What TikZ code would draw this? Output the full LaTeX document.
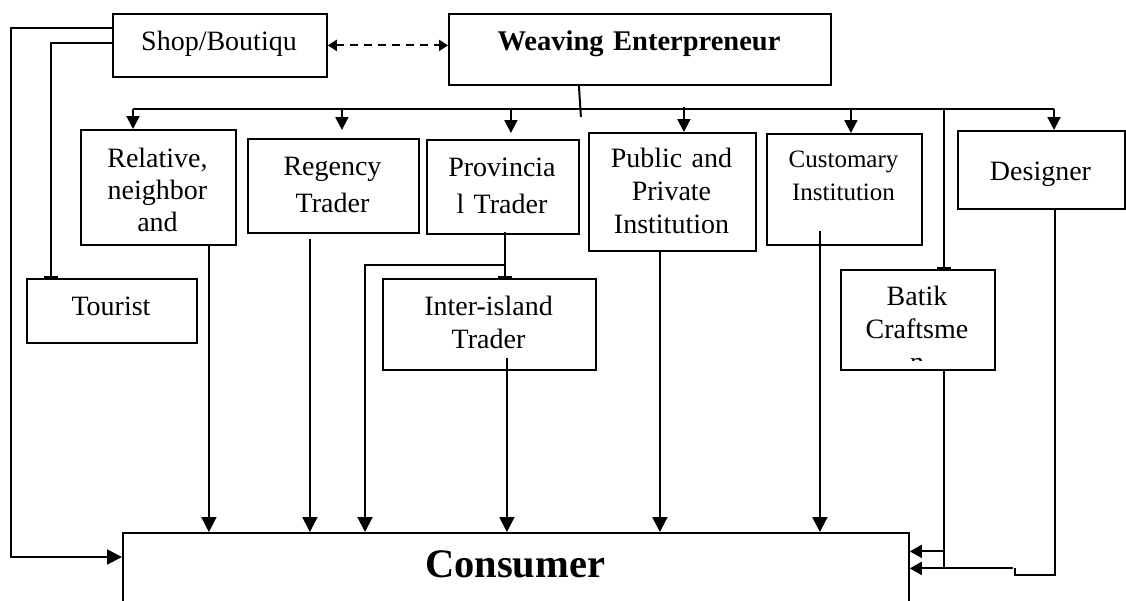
\documentclass[tikz,border=0pt]{standalone}
\usepackage{fontspec}
\setmainfont{Liberation Serif}
\usetikzlibrary{arrows.meta,calc}
\begin{document}
\begin{tikzpicture}[x=1pt,y=-1pt,
  box/.style={draw, line width=1.8pt, inner sep=0pt, anchor=north west},
  txt/.style={anchor=base, inner sep=0pt, text width=#1, align=center, font=\fontsize{28}{32}\selectfont},
  txt/.default=180pt,
  conn/.style={draw, line width=2pt},
  thinconn/.style={draw, line width=1.5pt},
  tipS/.style={-{Triangle[width=13pt,length=13pt]}},
  tipL/.style={-{Triangle[width=15pt,length=15pt]}},
  tipM/.style={-{Triangle[width=13pt,length=12pt]}},
  bartip/.style={-{Bar[width=14pt,line width=2.5pt]}},
  dasharrow/.style={draw, line width=2pt, dash pattern=on 8pt off 6pt,
    {Triangle[width=11pt,length=9pt]}-{Triangle[width=11pt,length=9pt]}}
]
\useasboundingbox (0,0) rectangle (1126,600);

% boxes
\node[box, minimum width=214pt, minimum height=63pt] (shop) at (112,13) {};
\node[box, minimum width=382pt, minimum height=71pt] (weave) at (448,13) {};
\node[box, minimum width=155pt, minimum height=115pt] (rel) at (80,129) {};
\node[box, minimum width=171pt, minimum height=94pt] (reg) at (247,138) {};
\node[box, minimum width=152pt, minimum height=94pt] (prov) at (426,139) {};
\node[box, minimum width=167pt, minimum height=118pt] (pub) at (588,132) {};
\node[box, minimum width=155pt, minimum height=111pt] (cust) at (766,133) {};
\node[box, minimum width=167pt, minimum height=78pt] (des) at (957,130) {};
\node[box, minimum width=170pt, minimum height=64pt] (tour) at (26,278) {};
\node[box, minimum width=213pt, minimum height=91pt] (inter) at (382,278) {};
\node[box, minimum width=154pt, minimum height=100pt] (batik) at (840,269) {};
\node[box, minimum width=786pt, minimum height=71pt] (cons) at (122,532) {};

% texts
\node[txt] (shopT) at (219,50) {Shop/Boutiqu};
\node[txt=380pt, font=\fontsize{28.5}{34}\selectfont\bfseries] (weaveT) at (639,50) {Weaving Enterpreneur};
\node[txt] (relT) at (157.5,167) {Relative,\\neighbor\\and};
\node[txt, font=\fontsize{28}{37}\selectfont] (regT) at (332.5,175) {Regency\\Trader};
\node[txt, font=\fontsize{28}{37}\selectfont] (provT) at (502,176) {Provincia\\l Trader};
\node[txt, font=\fontsize{28}{33}\selectfont] (pubT) at (671.5,167) {Public and\\Private\\Institution};
\node[txt, font=\fontsize{25}{33}\selectfont] (custT) at (843.5,167) {Customary\\Institution};
\node[txt] (desT) at (1040.5,180) {Designer};
\node[txt] (tourT) at (111,315) {Tourist};
\node[txt, font=\fontsize{28}{33}\selectfont] (interT) at (488.5,315) {Inter-island\\Trader};
\begin{scope}
  \clip (840,269) rectangle (994,360);
  \node[txt, font=\fontsize{28}{33}\selectfont] (batT) at (917,305) {Batik\\Craftsme\\n};
\end{scope}
\node[txt=400pt, font=\fontsize{40.5}{48}\selectfont\bfseries] (consT) at (515,577) {Consumer};

% shop <-> weaving
\draw[dasharrow] (shop.east) -- (shop.east -| weave.west);

% shop to consumer and tourist
\draw[conn, tipL] ([yshift=-15pt]shop.north west) -- ++(-101,0) |- ([yshift=-25pt]cons.north west);
\draw[conn, bartip] ([yshift=-30pt]shop.north west) -| ([xshift=25pt]tour.north west);

% weaving distribution line
\draw[conn] ([xshift=-61pt]weave.south) -- ++(2,31);
\coordinate (bl) at (133,109);
\coordinate (br) at (1054,109);
\draw[conn] (bl) -- (br);

\draw[conn, tipS] (bl) -- (bl |- rel.north);
\draw[conn, tipS] ([xshift=8.5pt]reg.north |- bl) -- ([xshift=8.5pt,yshift=8pt]reg.north);
\draw[conn, tipS] ([xshift=8pt]prov.north |- bl) -- ([xshift=8pt,yshift=6pt]prov.north);
\draw[conn, tipS] ([xshift=11.5pt,yshift=2pt]pub.north |- bl) -- ([xshift=11.5pt]pub.north);
\draw[conn, tipS] ([xshift=6.5pt]cust.north |- bl) -- ([xshift=6.5pt]cust.north);
\draw[conn, bartip] ([xshift=26pt,yshift=-1pt]batik.north |- bl) -- ([xshift=26pt]batik.north);
\draw[conn, tipS] (br) -- (br |- des.north);

% flows to consumer
\draw[conn, tipL] ([xshift=50.5pt,yshift=2pt]rel.south) -- ([xshift=50.5pt]rel.south |- cons.north);
\draw[conn, tipL] ([xshift=-23.5pt,yshift=-5pt]reg.south) -- ([xshift=-23.5pt]reg.south |- cons.north);
\draw[conn, bartip] ([xshift=2pt,yshift=3pt]prov.south) -- ([xshift=2pt]prov.south |- inter.north);
\coordinate (pj) at ([xshift=2pt,yshift=-30pt]prov.south);
\draw[conn, tipL] (pj) -| ([xshift=243pt]cons.north west);
\draw[conn, tipL] ([xshift=17.5pt,yshift=13pt]inter.south) -- ([xshift=17.5pt]inter.south |- cons.north);
\draw[conn, tipL] ([xshift=-12.5pt]pub.south) -- ([xshift=-12.5pt]pub.south |- cons.north);
\draw[conn, tipL] ([xshift=-24.5pt,yshift=15pt]cust.south) -- ([xshift=-24.5pt]cust.south |- cons.north);

% batik and designer to consumer (right side)
\coordinate (bj) at ([xshift=26pt]batik.south |- cons.east);
\draw[thinconn] ([xshift=26pt]batik.south) -- (bj);
\draw[conn, tipM] ([yshift=17pt]bj) -- ([yshift=17pt]cons.east);
\coordinate (dj) at ([xshift=105pt]cons.east);
\draw[thinconn] ([xshift=13.5pt]des.south) -- ++(0,365) -| (dj);
\draw[conn, tipM] ([xshift=-2pt]dj) -- (cons.east);
\end{tikzpicture}
\end{document}
